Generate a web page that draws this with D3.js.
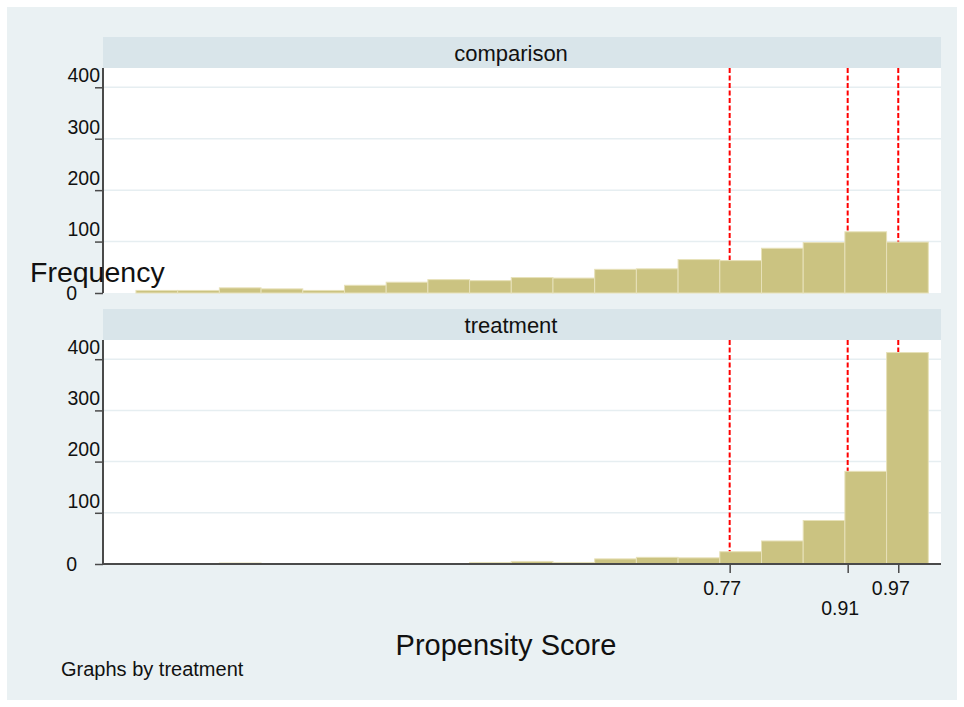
<!DOCTYPE html>
<html>
<head>
<meta charset="utf-8">
<script src="https://cdn.jsdelivr.net/npm/d3@7"></script>
<style>
  html, body { margin: 0; padding: 0; background: #ffffff; }
  svg { display: block; font-family: "Liberation Sans", Arial, sans-serif; }
</style>
</head>
<body>
<svg id="chart" width="964" height="707"></svg>
<script>
// ---- data ----
const panels = ["comparison", "treatment"];
const binStart = 0.0657;
const binWidth = 0.04947;
const comparisonCounts = [5, 5, 10, 8, 5, 15, 21, 26, 24, 30, 29, 46, 47, 65, 63, 87, 98, 119, 99];
const treatmentCounts  = [0, 0, 2, 0, 1, 1, 1, 1, 3, 5, 3, 10, 13, 12, 24, 45, 85, 181, 413];
const refLines = [0.77, 0.91, 0.97];
const xTickValues = [0.77, 0.91, 0.97];
const yTickValues = [0, 100, 200, 300, 400];
const xDomain = [0.0266, 1.0207];
const yDomain = [0, 437.5];
const xTitle = "Propensity Score";
const yTitle = "Frequency";
const note = "Graphs by treatment";

// ---- layout ----
const svg = d3.select("#chart");
const plotLeft = 103, plotRight = 941;
const panelBoxes = [
  { stripTop: 37, top: 68, bottom: 293 },
  { stripTop: 309, top: 340, bottom: 564 }
];
const bg = "#eaf1f3";
const stripCol = "#d9e5ea";
const gridCol = "#e6eef1";
const barFill = "#cbc381";
const barStroke = "#e7e1b9";
const axisCol = "#4a4a4a";

svg.append("rect").attr("x", 7).attr("y", 7).attr("width", 950).attr("height", 693).attr("fill", bg);

const x = d3.scaleLinear().domain(xDomain).range([plotLeft, plotRight]);

const seriesList = [comparisonCounts, treatmentCounts];

panels.forEach((name, pi) => {
  const box = panelBoxes[pi];
  const counts = seriesList[pi];
  const y = d3.scaleLinear().domain(yDomain).range([box.bottom, box.top]);
  const g = svg.append("g");

  // strip
  g.append("rect").attr("x", plotLeft).attr("y", box.stripTop)
    .attr("width", plotRight - plotLeft).attr("height", box.top - box.stripTop)
    .attr("fill", stripCol);
  g.append("text").attr("x", 511).attr("y", box.stripTop + 24)
    .attr("text-anchor", "middle").attr("font-size", 22).attr("fill", "#111")
    .text(name);

  // plot area
  g.append("rect").attr("x", plotLeft).attr("y", box.top)
    .attr("width", plotRight - plotLeft).attr("height", box.bottom - box.top)
    .attr("fill", "#ffffff");

  // gridlines
  g.selectAll(".grid").data(yTickValues.filter(v => v > 0)).enter().append("line")
    .attr("x1", plotLeft).attr("x2", plotRight)
    .attr("y1", d => y(d)).attr("y2", d => y(d))
    .attr("stroke", gridCol).attr("stroke-width", 1.5);

  // reference lines (behind bars)
  g.selectAll(".ref").data(refLines).enter().append("line")
    .attr("x1", d => x(d)).attr("x2", d => x(d))
    .attr("y1", box.top).attr("y2", box.bottom)
    .attr("stroke", "#ff0000").attr("stroke-width", 2)
    .attr("stroke-dasharray", "5,2.5");

  // bars
  const bins = counts.map((c, i) => ({ x0: binStart + i * binWidth, x1: binStart + (i + 1) * binWidth, c }));
  g.selectAll(".bar").data(bins.filter(b => b.c > 0)).enter().append("rect")
    .attr("x", d => x(d.x0)).attr("width", d => x(d.x1) - x(d.x0))
    .attr("y", d => y(d.c)).attr("height", d => y(0) - y(d.c))
    .attr("fill", barFill).attr("stroke", barStroke).attr("stroke-width", 1);

  // y axis
  const yAxis = d3.axisLeft(y).tickValues(yTickValues).tickSize(8).tickFormat(d3.format("d"));
  const ya = g.append("g").attr("transform", `translate(${plotLeft},0)`).call(yAxis);
  ya.select(".domain").remove();
  ya.selectAll(".tick line").attr("stroke", axisCol).attr("stroke-width", 1.5);
  ya.selectAll(".tick text")
    .attr("font-size", 19.5).attr("fill", "#111").attr("font-family", null)
    .attr("text-anchor", "end")
    .attr("x", d => d === 0 ? -26 : -3)
    .attr("dy", d => d === 0 ? "0.35em" : "-0.29em");
  g.append("line").attr("x1", plotLeft).attr("x2", plotLeft)
    .attr("y1", box.top).attr("y2", box.bottom)
    .attr("stroke", axisCol).attr("stroke-width", 2);

  // x axis only on bottom panel
  if (pi === panels.length - 1) {
    const xAxis = d3.axisBottom(x).tickValues(xTickValues).tickSize(9).tickFormat(d3.format(".2f"));
    const xa = g.append("g").attr("transform", `translate(0,${box.bottom})`).call(xAxis);
    xa.select(".domain").attr("stroke", axisCol).attr("stroke-width", 2)
      .attr("d", `M${plotLeft},0H${plotRight}`);
    xa.selectAll(".tick line").attr("stroke", axisCol).attr("stroke-width", 1.5);
    xa.selectAll(".tick text")
      .attr("font-size", 19.5).attr("fill", "#111").attr("font-family", null)
      .attr("x", -8)
      .attr("y", (d, i) => i % 2 === 1 ? 51 : 31)
      .attr("dy", 0);
  }
});

// titles
svg.append("text").attr("x", 506).attr("y", 655).attr("text-anchor", "middle")
  .attr("font-size", 29).attr("fill", "#111").text(xTitle);
svg.append("text").attr("x", 30).attr("y", 282).attr("text-anchor", "start")
  .attr("font-size", 28.5).attr("fill", "#111").text(yTitle);
svg.append("text").attr("x", 61).attr("y", 676).attr("text-anchor", "start")
  .attr("font-size", 20).attr("fill", "#111").text(note);
</script>
</body>
</html>
